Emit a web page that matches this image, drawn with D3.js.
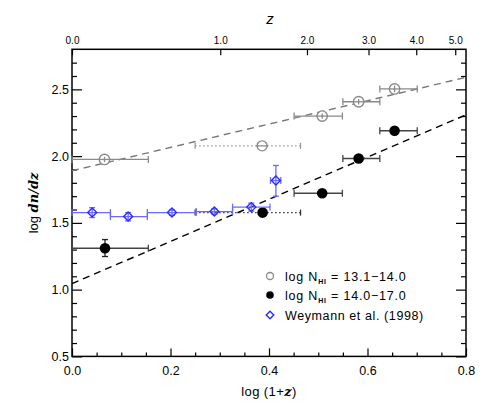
<!DOCTYPE html>
<html><head><meta charset="utf-8">
<script src="https://cdn.jsdelivr.net/npm/d3@7"></script>
<style>body{margin:0;background:#fff}svg{display:block}text{font-family:"Liberation Sans",Arial,sans-serif}</style>
</head><body><svg id="c" width="491" height="409"></svg>
<script>
// Low column density (open circles), log N_HI = 13.1-14.0
const openX   = [0.066, 0.508, 0.582, 0.655];
const openXlo = [0.000, 0.451, 0.550, 0.625];
const openXhi = [0.155, 0.549, 0.625, 0.701];
const openY   = [1.975, 2.300, 2.407, 2.503];
const openYerr= [0.02, 0.02, 0.02, 0.025];
const openDot = {x:0.386, xlo:0.250, xhi:0.464, y:2.077};
// High column density (filled circles), log N_HI = 14.0-17.0
const fillX   = [0.067, 0.508, 0.582, 0.655];
const fillXlo = [0.000, 0.451, 0.550, 0.625];
const fillXhi = [0.155, 0.549, 0.625, 0.701];
const fillY   = [1.310, 1.722, 1.982, 2.190];
const fillYlo = [1.248, 1.70, 1.96, 2.17];
const fillYhi = [1.375, 1.74, 2.00, 2.21];
const fillDot = {x:0.387, xlo:0.250, xhi:0.464, y:1.577};
// Weymann et al. (1998)
const weyX   = [0.041, 0.114, 0.203, 0.289, 0.364, 0.414];
const weyXlo = [0.000, 0.078, 0.153, 0.252, 0.326, 0.403];
const weyXhi = [0.078, 0.153, 0.252, 0.326, 0.402, 0.424];
const weyY   = [1.577, 1.547, 1.577, 1.585, 1.618, 1.817];
const weyYlo = [1.540, 1.515, 1.557, 1.565, 1.588, 1.700];
const weyYhi = [1.614, 1.577, 1.597, 1.605, 1.648, 1.930];
// Fitted lines: [intercept, slope]
const openFit = [1.89, 0.875];
const fillFit = [1.045, 1.58];
// Ticks
const xTicks = [0.0, 0.2, 0.4, 0.6, 0.8];
const yTicks = [0.5, 1.0, 1.5, 2.0, 2.5];
const zTicks = [0, 1, 2, 3, 4, 5];
const legendLabels = ["13.1\u221214.0", "14.0\u221217.0", "Weymann et al. (1998)"];

const svg = d3.select("#c");
const L=72, R=466, T=49.3, B=356.4;
const x = d3.scaleLinear().domain([0,0.8]).range([L,R]);
const y = d3.scaleLinear().domain([0.5,2.8]).range([B,T]);
const GREY="#8a8a8a", BLUE="#2a2aff", BLUEL="#6a6aff";

// Axes
const fs=12.5;
const minorX = d3.range(1,16).map(v=>v*0.05).filter((v,i)=>(i+1)%4!==0);
const minorY = d3.range(6,28).map(v=>v/10).filter(v=>Math.round(v*10)%5);
const axB = svg.append("g").attr("transform",`translate(0,${B})`)
  .call(d3.axisBottom(x).tickValues(xTicks).tickSize(-8).tickPadding(10).tickFormat(d3.format(".1f")));
svg.append("g").attr("transform",`translate(0,${B})`)
  .call(d3.axisBottom(x).tickValues(minorX).tickSize(-4).tickFormat(""));
const axT = svg.append("g").attr("transform",`translate(0,${T})`)
  .call(d3.axisTop(x).tickValues(zTicks.map(z=>Math.log10(1+z))).tickSize(-6).tickPadding(5).tickFormat((d,i)=>d3.format(".1f")(zTicks[i])));
const axL = svg.append("g").attr("transform",`translate(${L},0)`)
  .call(d3.axisLeft(y).tickValues(yTicks).tickSize(-10).tickPadding(3).tickFormat(d3.format(".1f")));
svg.append("g").attr("transform",`translate(${L},0)`)
  .call(d3.axisLeft(y).tickValues(minorY).tickSize(-5).tickFormat(""));
svg.append("g").attr("transform",`translate(${R},0)`)
  .call(d3.axisRight(y).tickValues(yTicks).tickSize(-10).tickFormat(""));
svg.append("g").attr("transform",`translate(${R},0)`)
  .call(d3.axisRight(y).tickValues(minorY).tickSize(-5).tickFormat(""));
svg.selectAll(".domain").remove();
svg.selectAll(".tick line").attr("stroke","#000").attr("stroke-width",1.2);
[axB,axL].forEach(a=>a.selectAll("text").attr("font-size",fs).attr("fill","#000").style("font-family","Liberation Sans, Arial, sans-serif"));
axT.selectAll("text").attr("font-size",10).attr("fill","#000").style("font-family","Liberation Sans, Arial, sans-serif");
svg.append("rect").attr("x",L).attr("y",T).attr("width",R-L).attr("height",B-T)
  .attr("fill","none").attr("stroke","#000").attr("stroke-width",1.5);

// Axis titles
svg.append("text").attr("x",269).attr("y",396).attr("text-anchor","middle").attr("font-size",13).style("letter-spacing","0.4px")
  .html('log (1+<tspan font-style="italic" font-family="DejaVu Serif, serif" font-weight="bold">z</tspan>)');
svg.append("text").attr("x",270).attr("y",24).attr("text-anchor","middle").attr("font-size",15)
  .attr("font-style","italic").attr("font-family","DejaVu Serif, serif").text("z");
svg.append("text").attr("transform","translate(38,203) rotate(-90)").attr("text-anchor","middle").attr("font-size",13)
  .html('log <tspan font-style="italic" font-family="DejaVu Serif, serif" font-weight="bold">dn/dz</tspan>');

// Fit lines
const g = svg.append("g");
[[openFit,"#777"],[fillFit,"#000"]].forEach(([f,c])=>{
  g.append("line").attr("x1",x(0)).attr("x2",x(0.8)).attr("y1",y(f[0])).attr("y2",y(f[0]+f[1]*0.8))
   .attr("stroke",c).attr("stroke-width",1.4).attr("stroke-dasharray","7,5");
});

// helper error bars
function hbar(xlo,xhi,yv,col,cap,dash){
  g.append("line").attr("x1",x(xlo)).attr("x2",x(xhi)).attr("y1",y(yv)).attr("y2",y(yv))
    .attr("stroke",col).attr("stroke-width",1.3).attr("stroke-dasharray",dash||null);
  [xlo,xhi].forEach(v=>g.append("line").attr("x1",x(v)).attr("x2",x(v)).attr("y1",y(yv)-cap).attr("y2",y(yv)+cap)
    .attr("stroke",col).attr("stroke-width",1.3));
}
function vbar(xv,ylo,yhi,col,cap){
  g.append("line").attr("x1",x(xv)).attr("x2",x(xv)).attr("y1",y(ylo)).attr("y2",y(yhi)).attr("stroke",col).attr("stroke-width",1.3);
  [ylo,yhi].forEach(v=>g.append("line").attr("x1",x(xv)-cap).attr("x2",x(xv)+cap).attr("y1",y(v)).attr("y2",y(v))
    .attr("stroke",col).attr("stroke-width",1.3));
}

// Dotted (uncertain) points
hbar(openDot.xlo,openDot.xhi,openDot.y,"#999",3,"1.5,2.5");
g.append("circle").attr("cx",x(openDot.x)).attr("cy",y(openDot.y)).attr("r",5).attr("fill","#fff").attr("stroke",GREY).attr("stroke-width",1.4);
hbar(openDot.x-0.012,openDot.x+0.012,openDot.y,GREY,0);
hbar(fillDot.xlo,fillDot.xhi,fillDot.y,"#333",3,"1.5,2.5");

// Open circles
openX.forEach((v,i)=>{
  hbar(openXlo[i],openXhi[i],openY[i],GREY,3.5);
  g.append("circle").attr("cx",x(v)).attr("cy",y(openY[i])).attr("r",5.2).attr("fill","#fff").attr("stroke",GREY).attr("stroke-width",1.4);
  hbar(v-0.011,v+0.011,openY[i],GREY,0);
  vbar(v,openY[i]-openYerr[i],openY[i]+openYerr[i],GREY,0);
});
// Filled circles
fillX.forEach((v,i)=>{
  hbar(fillXlo[i],fillXhi[i],fillY[i],"#444",3.5);
  vbar(v,fillYlo[i],fillYhi[i],"#222",3);
  g.append("circle").attr("cx",x(v)).attr("cy",y(fillY[i])).attr("r",5.3).attr("fill","#000");
});
g.append("circle").attr("cx",x(fillDot.x)).attr("cy",y(fillDot.y)).attr("r",5.3).attr("fill","#000");

// Weymann diamonds
const dia = r=>`M0,${-r}L${r},0L0,${r}L${-r},0Z`;
weyX.forEach((v,i)=>{
  hbar(weyXlo[i],weyXhi[i],weyY[i],BLUEL,3.5);
  vbar(v,weyYlo[i],weyYhi[i],BLUEL,3);
  g.append("path").attr("d",dia(4.5)).attr("transform",`translate(${x(v)},${y(weyY[i])})`)
    .attr("fill","none").attr("stroke",BLUE).attr("stroke-width",1.4);
});

// Legend
const lg = svg.append("g");
const ly=[276,295,315];
lg.append("circle").attr("cx",270).attr("cy",ly[0]).attr("r",3.5).attr("fill","#fff").attr("stroke",GREY).attr("stroke-width",1.3);
lg.append("circle").attr("cx",270).attr("cy",ly[1]).attr("r",3.8).attr("fill","#000");
lg.append("path").attr("d",dia(3.8)).attr("transform",`translate(270,${ly[2]})`).attr("fill","none").attr("stroke",BLUE).attr("stroke-width",1.4);
[0,1].forEach(i=>{
  lg.append("text").attr("x",285).attr("y",ly[i]+4.5).attr("font-size",12.5).style("letter-spacing","0.8px")
    .html(`log N<tspan font-size="7" font-weight="bold" dy="3">HI</tspan><tspan dy="-3"> = ${legendLabels[i]}</tspan>`);
});
lg.append("text").attr("x",285).attr("y",ly[2]+4.5).attr("font-size",12.5).style("letter-spacing","0.6px").text(legendLabels[2]);
</script></body></html>
